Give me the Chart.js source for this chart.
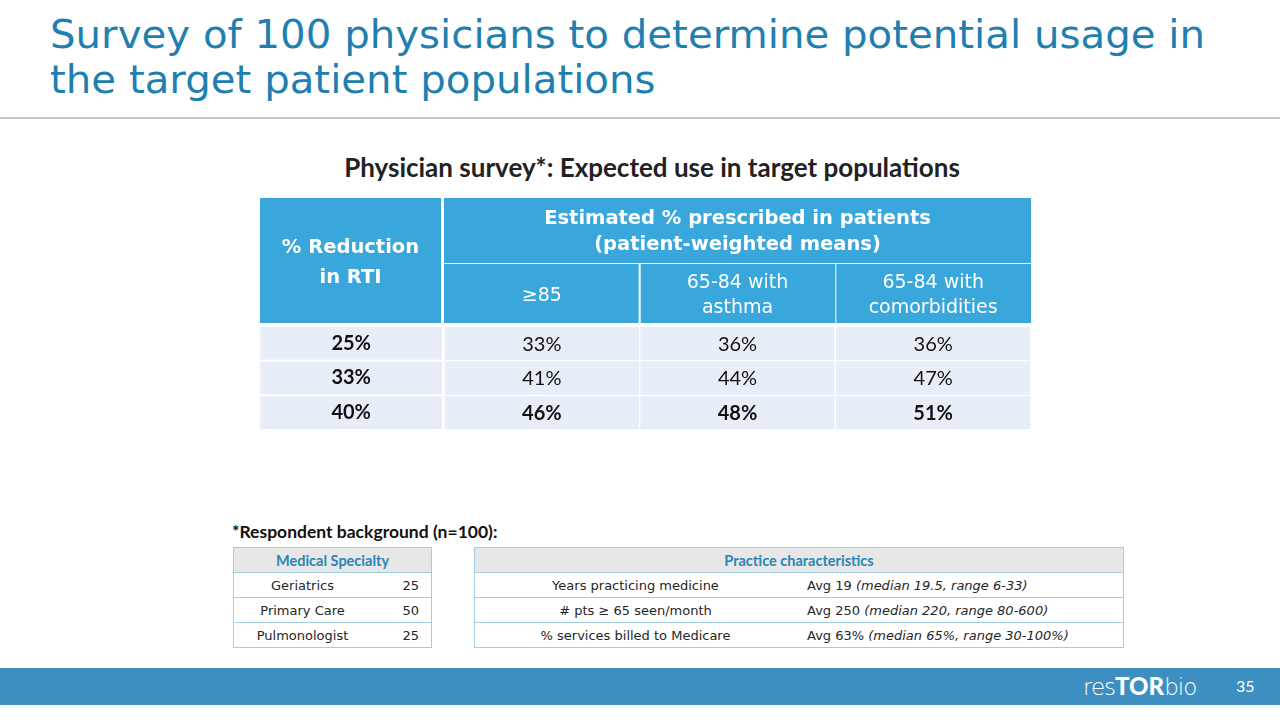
<!DOCTYPE html>
<html lang="en">
<head>
<meta charset="UTF-8">
<title>Physician survey</title>
<script src="https://cdn.jsdelivr.net/npm/chart.js"></script>
<style>
    body {
        margin: 0;
        width: 1280px;
        height: 720px;
        overflow: hidden;
        background: #ffffff;
        font-family: "DejaVu Sans", sans-serif;
        position: relative;
    }
    #title {
        position: absolute;
        left: 50px;
        top: 12px;
        color: #1f80b0;
        font-size: 39px;
        line-height: 45px;
        white-space: nowrap;
    }
    #title span {
        display: inline-block;
        transform-origin: left center;
    }
    #rule {
        position: absolute;
        left: 0;
        top: 117px;
        width: 1280px;
        height: 2px;
        background: #c6c6c6;
    }
    #subtitle {
        position: absolute;
        left: 0;
        width: 1304px;
        top: 154px;
        text-align: center;
        font-family: Lato, sans-serif;
        font-weight: bold;
        font-size: 26px;
        line-height: 26px;
        color: #222222;
    }
    #tableWrap {
        position: absolute;
        left: 260px;
        top: 198px;
        width: 771px;
        height: 232px;
    }
    #bgTitle {
        position: absolute;
        left: 232px;
        top: 523px;
        font-family: Lato, sans-serif;
        font-weight: bold;
        font-size: 17.5px;
        line-height: 17.5px;
        color: #111111;
    }
    table.info {
        position: absolute;
        top: 547px;
        border-collapse: collapse;
        border: 1px solid #a3cde6;
        font-size: 13px;
        color: #262626;
    }
    table.info td, table.info th {
        border-top: 1px solid #a3cde6;
        border-bottom: 1px solid #a3cde6;
        height: 24px;
        padding: 0;
    }
    table.info th {
        background: #e7e7e7;
        color: #2a86b6;
        font-family: Lato, sans-serif;
        font-weight: bold;
        font-size: 14.5px;
    }
    #specialty { left: 233px; width: 199px; }
    #practice { left: 474px; width: 650px; }
    #footer {
        position: absolute;
        left: 0;
        top: 668px;
        width: 1280px;
        height: 37px;
        background: #3e8fc1;
        color: #ffffff;
    }
    #logo {
        position: absolute;
        left: 1083px;
        top: 5px;
        font-family: "DejaVu Sans", sans-serif;
        font-size: 23px;
        line-height: 26px;
        letter-spacing: -1px;
        font-weight: 200;
    }
    #logo b { font-family: Lato, sans-serif; font-weight: 900; font-size: 24px; letter-spacing: 0; }
    #page {
        position: absolute;
        left: 1236px;
        top: 10px;
        font-family: Lato, sans-serif;
        font-size: 16px;
        line-height: 16px;
    }
</style>
</head>
<body>
<div id="title"><span id="t1">Survey of 100 physicians to determine potential usage in</span><br><span id="t2">the target patient populations</span></div>
<div id="rule"></div>
<div id="subtitle">Physician survey*: Expected use in target populations</div>
<div id="tableWrap"><canvas id="usage" width="771" height="232"></canvas></div>
<div id="bgTitle">*Respondent background (n=100):</div>
<table class="info" id="specialty"></table>
<table class="info" id="practice"></table>
<div id="footer">
    <div id="logo">res<b>TOR</b>bio</div>
    <div id="page">35</div>
</div>
<script>
    // main table data
    const reductionLevels = ['25%', '33%', '40%'];
    const populations = [['≥85'], ['65-84 with', 'asthma'], ['65-84 with', 'comorbidities']];
    const prescribedOver85 = [33, 41, 46];
    const prescribedAsthma = [36, 44, 48];
    const prescribedComorbid = [36, 47, 51];
    const reductionHeader = ['% Reduction', 'in RTI'];
    const prescribedHeader = ['Estimated % prescribed in patients', '(patient-weighted means)'];

    // respondent background
    const specialtyHeader = 'Medical Specialty';
    const specialties = ['Geriatrics', 'Primary Care', 'Pulmonologist'];
    const specialtyCounts = [25, 50, 25];
    const practiceHeader = 'Practice characteristics';
    const practiceItems = ['Years practicing medicine', '# pts ≥ 65 seen/month', '% services billed to Medicare'];
    const practiceAvg = ['Avg 19', 'Avg 250', 'Avg 63%'];
    const practiceDetail = ['(median 19.5, range 6-33)', '(median 220, range 80-600)', '(median 65%, range 30-100%)'];

    // fit the title lines to the slide width
    const t1 = document.getElementById('t1');
    const t2 = document.getElementById('t2');
    const sx = 1155 / t1.getBoundingClientRect().width;
    t1.style.transform = 'scaleX(' + sx + ')';
    t2.style.transform = 'scaleX(' + sx + ')';

    // small tables
    let html = '<tr><th colspan="2">' + specialtyHeader + '</th></tr>';
    specialties.forEach((s, i) => {
        html += '<tr><td style="text-align:center;width:137px">' + s + '</td>' +
            '<td style="text-align:right;padding-right:12px">' + specialtyCounts[i] + '</td></tr>';
    });
    document.getElementById('specialty').innerHTML = html;

    html = '<tr><th colspan="2">' + practiceHeader + '</th></tr>';
    practiceItems.forEach((p, i) => {
        html += '<tr><td style="text-align:center;width:321px">' + p + '</td>' +
            '<td style="padding-left:11px">' + practiceAvg[i] + ' <i>' + practiceDetail[i] + '</i></td></tr>';
    });
    document.getElementById('practice').innerHTML = html;

    const headBlue = '#39a6dc';
    const cellFill = '#e7eef8';

    // header cells and first-column cells drawn around the chart area
    const tableFrame = {
        id: 'tableFrame',
        beforeDraw(chart) {
            const ctx = chart.ctx;
            const area = chart.chartArea;
            const x = chart.scales.x;
            const y = chart.scales.y;
            const topH = 65;
            const subBottom = area.top - 3;
            ctx.save();
            ctx.fillStyle = headBlue;
            ctx.fillRect(0, 0, area.left - 3, subBottom);
            ctx.fillRect(area.left, 0, area.right - area.left, topH);
            populations.forEach((p, c) => {
                const x0 = x.getPixelForValue(c - 0.5);
                const x1 = x.getPixelForValue(c + 0.5);
                ctx.fillRect(x0 + (c ? 1 : 0), topH + 1, x1 - x0 - 1, subBottom - topH - 1);
            });
            // first column body cells
            const half = (area.bottom - area.top) / reductionLevels.length / 2;
            ctx.fillStyle = cellFill;
            reductionLevels.forEach((r, i) => {
                const yc = y.getPixelForValue(i);
                ctx.fillRect(0, yc - half + 1, area.left - 2, half * 2 - 2);
            });

            ctx.fillStyle = '#ffffff';
            ctx.textAlign = 'center';
            ctx.textBaseline = 'middle';
            ctx.font = 'bold 19.5px "DejaVu Sans"';
            const cx0 = (area.left - 3) / 2;
            ctx.fillText(reductionHeader[0], cx0, 50);
            ctx.fillText(reductionHeader[1], cx0, 80);
            const cxTop = (area.left + area.right) / 2;
            ctx.fillText(prescribedHeader[0], cxTop, 21);
            ctx.fillText(prescribedHeader[1], cxTop, 47);
            ctx.font = '19px "DejaVu Sans"';
            populations.forEach((p, c) => {
                const cx = x.getPixelForValue(c);
                const mid = (topH + subBottom) / 2 + 3;
                p.forEach((line, k) => {
                    ctx.fillText(line, cx, mid + (k - (p.length - 1) / 2) * 25);
                });
            });
            ctx.restore();
        },
        afterDatasetsDraw(chart) {
            const ctx = chart.ctx;
            ctx.save();
            ctx.fillStyle = '#111111';
            ctx.textAlign = 'center';
            ctx.textBaseline = 'middle';
            chart.data.datasets.forEach((ds, di) => {
                chart.getDatasetMeta(di).data.forEach((bar, i) => {
                    const pt = bar.getCenterPoint();
                    ctx.font = (i === reductionLevels.length - 1 ? 'bold ' : '') + '20px Lato';
                    ctx.fillText(ds.values[i] + '%', pt.x, pt.y + 1);
                });
            });
            ctx.restore();
        }
    };

    const series = [prescribedOver85, prescribedAsthma, prescribedComorbid];

    new Chart(document.getElementById('usage'), {
        type: 'bar',
        data: {
            labels: reductionLevels,
            datasets: series.map((vals, c) => ({
                label: populations[c].join(' '),
                values: vals,
                data: vals.map(() => [c - 0.5, c + 0.5]),
                backgroundColor: cellFill,
                borderColor: '#ffffff',
                borderWidth: 1,
                borderSkipped: false,
                grouped: false,
                barPercentage: 1,
                categoryPercentage: 1
            }))
        },
        options: {
            indexAxis: 'y',
            responsive: false,
            animation: false,
            layout: { padding: { top: 128 } },
            scales: {
                x: { type: 'linear', min: -0.5, max: 2.5, display: false },
                y: {
                    type: 'category',
                    grid: { display: false, drawTicks: false },
                    border: { display: false },
                    ticks: {
                        color: '#111111',
                        font: { family: 'Lato', weight: 'bold', size: 20 },
                        crossAlign: 'center',
                        padding: 73
                    },
                    afterFit: s => {
                        // first table column: fixed width, no extra vertical padding
                        s.width = 184;
                        s.paddingTop = 0;
                        s.paddingBottom = 0;
                    }
                }
            },
            plugins: {
                legend: { display: false },
                tooltip: { enabled: false }
            }
        },
        plugins: [tableFrame]
    });
</script>
</body>
</html>
